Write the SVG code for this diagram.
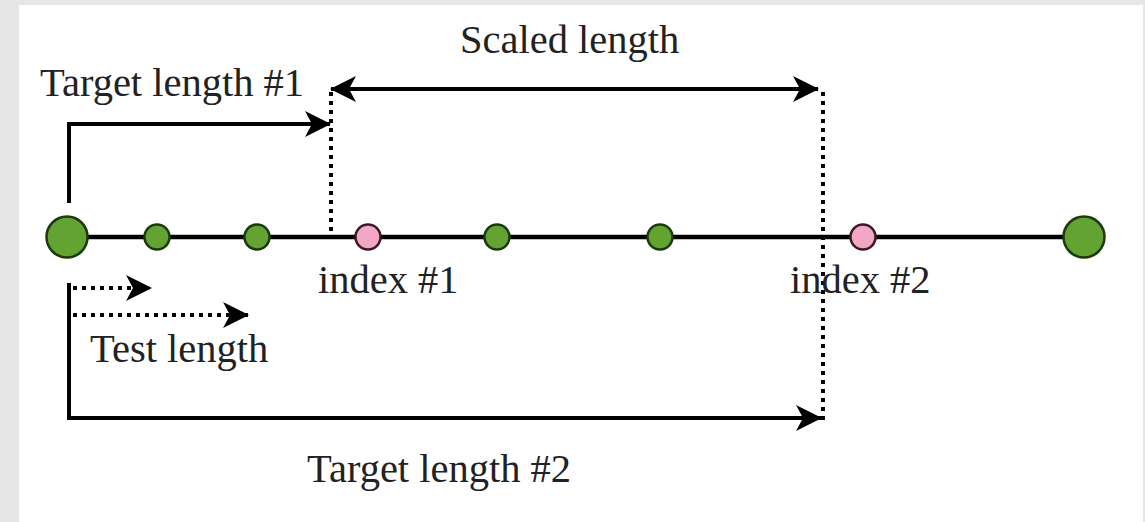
<svg xmlns="http://www.w3.org/2000/svg" width="1145" height="522" viewBox="0 0 1145 522">
  <style>
    .lbl { font-family: "Liberation Serif", "Times New Roman", serif; font-size: 40.5px; fill: #222; }
    .solid { fill: none; stroke: #000; stroke-width: 4; }
    .dots { fill: none; stroke: #000; stroke-width: 4; stroke-dasharray: 4 5; }
    .green { fill: #62a332; stroke: #1c3a0c; stroke-width: 2.5; }
    .pink { fill: #f3a7c6; stroke: #3a1a25; stroke-width: 2.5; }
  </style>
  <defs>
    <marker id="arrow" viewBox="0 0 26 28" refX="25" refY="14" markerWidth="26" markerHeight="28" markerUnits="userSpaceOnUse" orient="auto-start-reverse">
      <path d="M0,1 L26,14 L0,27 L7,14 z" fill="#000"/>
    </marker>
  </defs>

  <!-- page backdrop and white sheet -->
  <rect x="0" y="0" width="1145" height="522" fill="#e6e6e6"/>
  <rect x="19" y="5" width="1124" height="517" fill="#ffffff"/>

  <!-- baseline through all nodes -->
  <g id="axis">
    <line x1="67" y1="237" x2="1084" y2="237" stroke="#000" stroke-width="4.5"/>
  </g>

  <g id="connectors">
    <!-- guide lines marking the two index positions -->
    <line class="dots" x1="331" y1="92" x2="331" y2="234"/>
    <line class="dots" x1="823" y1="92" x2="823" y2="420"/>
    <!-- target length #1 -->
    <path class="solid" d="M69 203 V124 H330" marker-end="url(#arrow)"/>
    <!-- scaled length -->
    <path class="solid" d="M331 89 H818" marker-start="url(#arrow)" marker-end="url(#arrow)"/>
    <!-- target length #2 -->
    <path class="solid" d="M69 283 V418 H821" marker-end="url(#arrow)"/>
    <!-- test lengths -->
    <path class="dots" d="M73 288 H151" marker-end="url(#arrow)"/>
    <path class="dots" d="M73 315 H248" marker-end="url(#arrow)"/>
  </g>

  <g id="node-start"><circle class="green" cx="67" cy="237" r="20.5"/></g>
  <g id="node-a"><circle class="green" cx="157" cy="237" r="12.5"/></g>
  <g id="node-b"><circle class="green" cx="257" cy="237" r="12.5"/></g>
  <g id="node-index1"><circle class="pink" cx="368" cy="237" r="12.5"/></g>
  <g id="node-c"><circle class="green" cx="497" cy="237" r="12.5"/></g>
  <g id="node-d"><circle class="green" cx="660" cy="237" r="12.5"/></g>
  <g id="node-index2"><circle class="pink" cx="863" cy="237" r="12.5"/></g>
  <g id="node-end"><circle class="green" cx="1084" cy="237" r="20.5"/></g>

  <g id="labels">
    <text class="lbl" x="40" y="96">Target length #1</text>
    <text class="lbl" x="460" y="53">Scaled length</text>
    <text class="lbl" x="318" y="293">index #1</text>
    <text class="lbl" x="790" y="293">index #2</text>
    <text class="lbl" x="90" y="362">Test length</text>
    <text class="lbl" x="307" y="482">Target length #2</text>
  </g>
</svg>
